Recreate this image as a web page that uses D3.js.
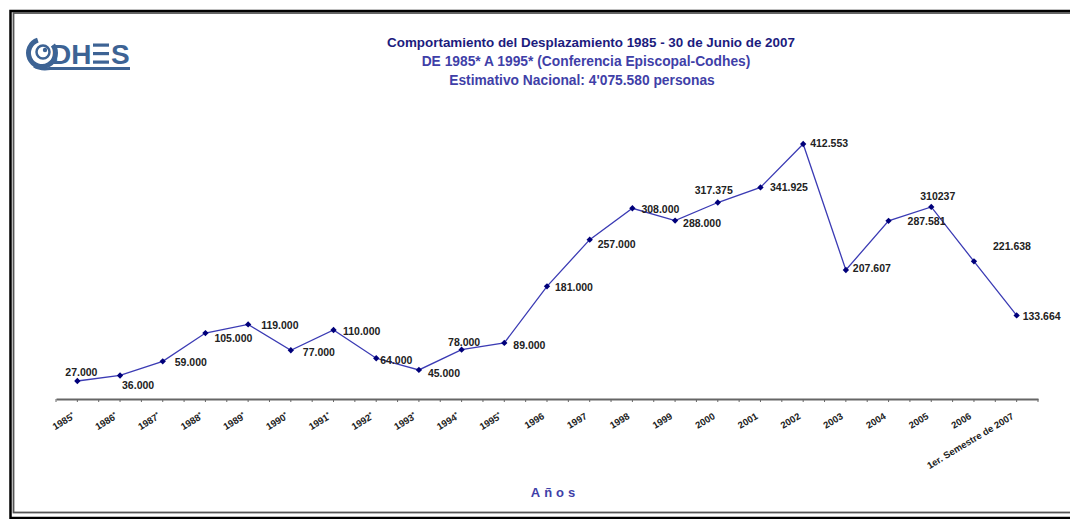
<!DOCTYPE html>
<html>
  <head>
    <title>Comportamiento del Desplazamiento 1985 - 2007</title>
    <meta charset="utf-8">
    <script src="https://d3js.org/d3.v7.min.js"></script>
    <style>
    body { margin: 0; background: #fff; }
    svg { display: block; font-family: 'Liberation Sans', Arial, sans-serif; }
    .title1 { fill: #1c1c7e; font-weight: bold; font-size: 13.4px; }
    .title2 { fill: #3f3fa8; font-weight: bold; font-size: 13.8px; }
    .xlabel { fill: #222; font-weight: bold; font-size: 9.5px; }
    .vlabel { fill: #222; font-weight: bold; font-size: 10.5px; }
    .axistitle { fill: #3f3fa8; font-weight: bold; font-size: 13px; letter-spacing: 4px; }
    </style>
  </head>
  <body>
    <script>

      // data
      var years = ["1985*", "1986*", "1987*", "1988*", "1989*", "1990*", "1991*", "1992*",
                   "1993*", "1994*", "1995*", "1996", "1997", "1998", "1999", "2000",
                   "2001", "2002", "2003", "2004", "2005", "2006", "1er. Semestre de 2007"];
      var personas = [27000, 36000, 59000, 105000, 119000, 77000, 110000, 64000,
                      45000, 78000, 89000, 181000, 257000, 308000, 288000, 317375,
                      341925, 412553, 207607, 287581, 310237, 221638, 133664];
      var valueLabels = ["27.000", "36.000", "59.000", "105.000", "119.000", "77.000", "110.000", "64.000",
                         "45.000", "78.000", "89.000", "181.000", "257.000", "308.000", "288.000", "317.375",
                         "341.925", "412.553", "207.607", "287.581", "310237", "221.638", "133.664"];
      var titleLines = ["Comportamiento del Desplazamiento 1985 - 30 de Junio de 2007",
                        "DE 1985* A 1995* (Conferencia Episcopal-Codhes)",
                        "Estimativo Nacional: 4'075.580 personas"];

      // where each value label sits relative to its point [dx, dy]
      var labelOffsets = [[-12, -5], [2, 13.5], [12, 5], [9, 9], [13, 4.5], [12, 6], [9.5, 5], [4, 6],
                          [9, 7], [-13.5, -4], [9, 6], [8, 5], [8, 8], [9, 5], [8, 6.5], [-23, -8.5],
                          [9.5, 4], [7, 3], [7, 2], [19, 4], [-11, -7], [19, -11], [6, 5]];

      // setup
      var w = 1070, h = 519;
      var svg = d3.select("body").append("svg")
          .attr("width", w)
          .attr("height", h);

      // frame
      svg.append("rect")
          .attr("x", 10.5).attr("y", 11)
          .attr("width", 1080).attr("height", 507)
          .attr("fill", "none").attr("stroke", "#000").attr("stroke-width", 2.5);
      svg.append("rect")
          .attr("x", 13.5).attr("y", 13)
          .attr("width", 1080).attr("height", 499.5)
          .attr("fill", "none").attr("stroke", "#555").attr("stroke-width", 1.8);

      // logo
      var logo = svg.append("g").attr("fill", "#3d6394").attr("stroke", "#3d6394");
      var cArc = d3.arc().innerRadius(11).outerRadius(16)
          .startAngle(Math.PI * 0.3).endAngle(Math.PI * 1.9);
      logo.append("path").attr("d", cArc()).attr("stroke", "none")
          .attr("transform", "translate(42,53)");
      logo.append("circle").attr("cx", 43).attr("cy", 52).attr("r", 6.5)
          .attr("fill", "none").attr("stroke-width", 2.5);
      logo.append("circle").attr("cx", 45).attr("cy", 50).attr("r", 2.2).attr("stroke", "none");
      logo.append("path").attr("d", "M34,66 Q40,70 50,68.5 L130,68.5")
          .attr("fill", "none").attr("stroke-width", 3);
      logo.append("text").attr("x", 51).attr("y", 63.5).attr("stroke", "none")
          .style("font-weight", "bold").style("font-size", "28px").text("DH");
      [43.5, 52, 60.5].forEach(function(yy) {
        logo.append("rect").attr("x", 93).attr("y", yy).attr("width", 16).attr("height", 3.2)
            .attr("stroke", "none");
      });
      logo.append("text").attr("x", 111).attr("y", 63.5).attr("stroke", "none")
          .style("font-weight", "bold").style("font-size", "28px").text("S");

      // titles
      svg.append("text").attr("class", "title1")
          .attr("x", 591).attr("y", 47).attr("text-anchor", "middle").text(titleLines[0]);
      svg.append("text").attr("class", "title2")
          .attr("x", 586).attr("y", 66).attr("text-anchor", "middle").text(titleLines[1]);
      svg.append("text").attr("class", "title2")
          .attr("x", 582).attr("y", 85).attr("text-anchor", "middle").text(titleLines[2]);

      // scales
      var xScale = d3.scaleBand().domain(years).range([56, 1038]);
      var yScale = d3.scaleLinear().domain([0, 450000]).range([397.6, 121]);
      var cx = function(d, i) { return xScale(years[i]) + xScale.bandwidth() / 2; };
      var cy = function(d) { return yScale(d); };

      // axis
      var axisY = 399;
      var xAxis = d3.axisBottom(xScale).tickSize(3).tickSizeOuter(0).tickFormat("");
      var axisG = svg.append("g")
          .attr("transform", "translate(0," + axisY + ")")
          .call(xAxis);
      axisG.select(".domain").attr("stroke", "#666").attr("stroke-width", 2);
      axisG.selectAll(".tick line").attr("stroke", "#666").attr("stroke-width", 1);
      var bounds = years.map(function(y) { return xScale(y); }).concat([xScale.range()[1]]);
      axisG.selectAll(".minor").data(bounds).enter().append("line")
          .attr("x1", function(d) { return d; }).attr("x2", function(d) { return d; })
          .attr("y1", 0).attr("y2", 3)
          .attr("stroke", "#666").attr("stroke-width", 1);

      // tick labels
      svg.selectAll(".xlabel").data(years).enter().append("text")
          .attr("class", "xlabel")
          .attr("text-anchor", "end")
          .attr("transform", function(d) {
            return "translate(" + (xScale(d) + xScale.bandwidth() / 2 - 2) + "," + (axisY + 19) + ") rotate(-31)";
          })
          .each(function(d) {
            var t = d3.select(this);
            if (d.slice(-1) === "*") {
              t.append("tspan").text(d.slice(0, -1));
              t.append("tspan").attr("dy", -3).style("font-size", "6.5px").text("*");
            } else {
              t.text(d);
            }
          });

      // line
      var line = d3.line().x(cx).y(cy);
      svg.append("path")
          .datum(personas)
          .attr("d", line)
          .attr("fill", "none")
          .attr("stroke", "#3b3bb4")
          .attr("stroke-width", 1.3);

      // markers
      var diamond = d3.symbol().type(d3.symbolSquare).size(20);
      svg.selectAll(".marker").data(personas).enter().append("path")
          .attr("class", "marker")
          .attr("d", diamond)
          .attr("fill", "#00007a")
          .attr("transform", function(d, i) {
            return "translate(" + cx(d, i) + "," + cy(d) + ") rotate(45)";
          });

      // value labels
      svg.selectAll(".vlabel").data(personas).enter().append("text")
          .attr("class", "vlabel")
          .attr("x", function(d, i) { return cx(d, i) + labelOffsets[i][0]; })
          .attr("y", function(d, i) { return cy(d) + labelOffsets[i][1]; })
          .text(function(d, i) { return valueLabels[i]; });

      // axis title
      svg.append("text").attr("class", "axistitle")
          .attr("x", 555).attr("y", 497).attr("text-anchor", "middle").text("Años");

    </script>
  </body>
</html>
